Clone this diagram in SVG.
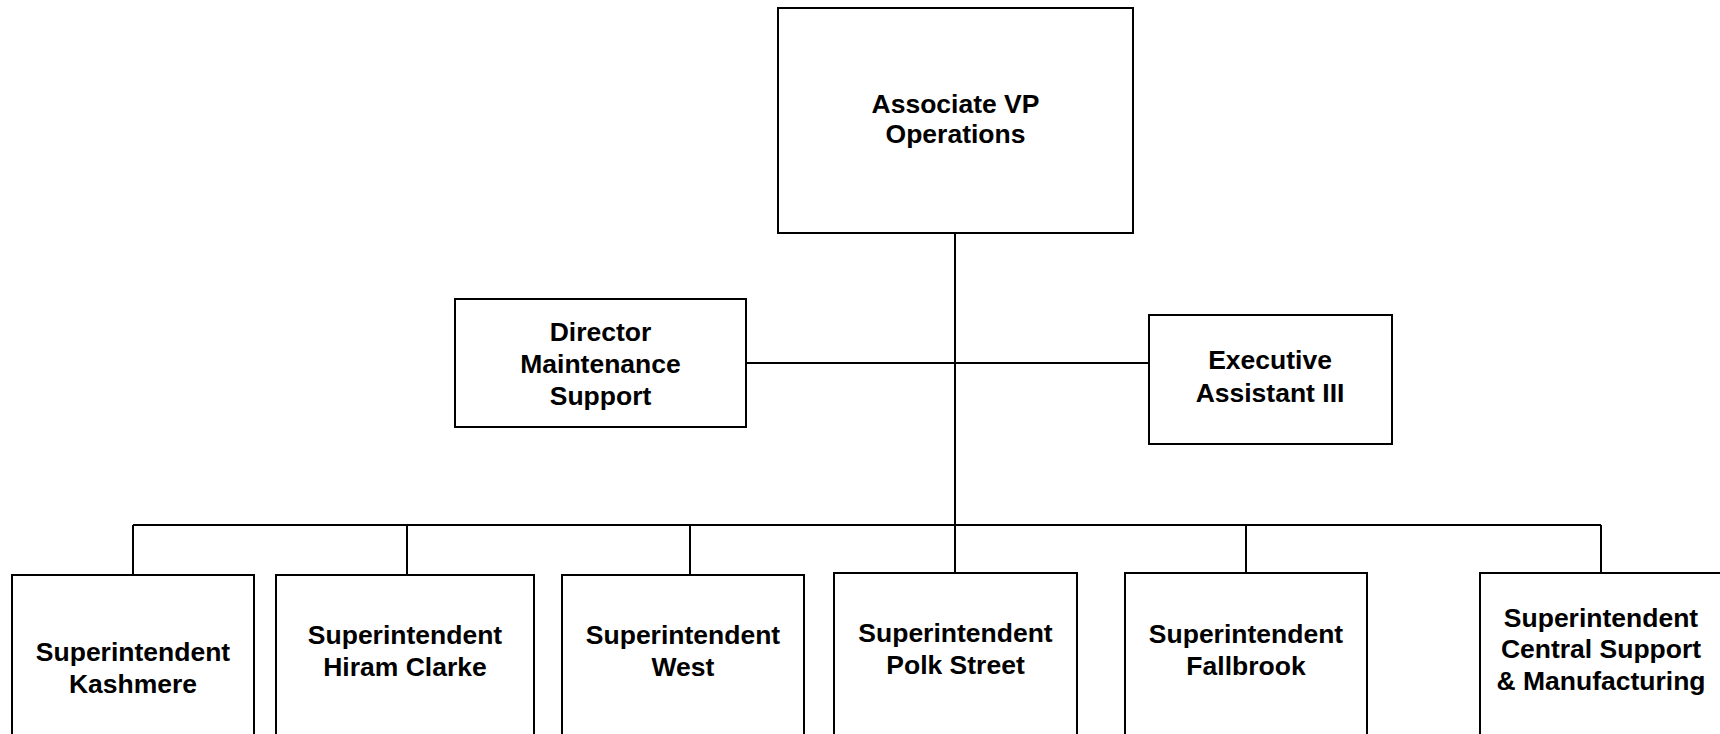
<svg xmlns="http://www.w3.org/2000/svg" width="1720" height="734" viewBox="0 0 1720 734">
<style>
.box{fill:#fff;stroke:#000;stroke-width:2}
.ln{stroke:#000;stroke-width:2;fill:none}
.t{font-family:"Liberation Sans",Arial,sans-serif;font-weight:bold;font-size:26.5px;fill:#000;text-anchor:middle}
</style>
<rect width="1720" height="734" fill="#fff"/>
<g id="connectors">
<line class="ln" x1="955" y1="233" x2="955" y2="525"/>
<line class="ln" x1="746" y1="363" x2="1149" y2="363"/>
<line class="ln" x1="133" y1="525" x2="1601" y2="525"/>
<line class="ln" x1="133" y1="525" x2="133" y2="575"/>
<line class="ln" x1="407" y1="525" x2="407" y2="575"/>
<line class="ln" x1="690" y1="525" x2="690" y2="575"/>
<line class="ln" x1="955" y1="525" x2="955" y2="573"/>
<line class="ln" x1="1246" y1="525" x2="1246" y2="573"/>
<line class="ln" x1="1601" y1="525" x2="1601" y2="573"/>
</g>
<g id="avp">
<rect class="box" x="778" y="8" width="355" height="225"/>
<text class="t" x="955.5" y="113">Associate VP</text>
<text class="t" x="955.5" y="143">Operations</text>
</g>
<g id="director">
<rect class="box" x="455" y="299" width="291" height="128"/>
<text class="t" x="600.5" y="341">Director</text>
<text class="t" x="600.5" y="373">Maintenance</text>
<text class="t" x="600.5" y="405">Support</text>
</g>
<g id="exec">
<rect class="box" x="1149" y="315" width="243" height="129"/>
<text class="t" x="1270" y="369">Executive</text>
<text class="t" x="1270" y="402">Assistant III</text>
</g>
<g id="kashmere">
<rect class="box" x="12" y="575" width="242" height="190"/>
<text class="t" x="133" y="661">Superintendent</text>
<text class="t" x="133" y="693">Kashmere</text>
</g>
<g id="hiram">
<rect class="box" x="276" y="575" width="258" height="190"/>
<text class="t" x="405" y="644">Superintendent</text>
<text class="t" x="405" y="676">Hiram Clarke</text>
</g>
<g id="west">
<rect class="box" x="562" y="575" width="242" height="190"/>
<text class="t" x="683" y="644">Superintendent</text>
<text class="t" x="683" y="676">West</text>
</g>
<g id="polk">
<rect class="box" x="834" y="573" width="243" height="190"/>
<text class="t" x="955.5" y="642">Superintendent</text>
<text class="t" x="955.5" y="674">Polk Street</text>
</g>
<g id="fallbrook">
<rect class="box" x="1125" y="573" width="242" height="190"/>
<text class="t" x="1246" y="643">Superintendent</text>
<text class="t" x="1246" y="675">Fallbrook</text>
</g>
<g id="central">
<rect class="box" x="1480" y="573" width="242" height="190"/>
<text class="t" x="1601" y="627">Superintendent</text>
<text class="t" x="1601" y="658">Central Support</text>
<text class="t" x="1601" y="690">&amp; Manufacturing</text>
</g>
</svg>
